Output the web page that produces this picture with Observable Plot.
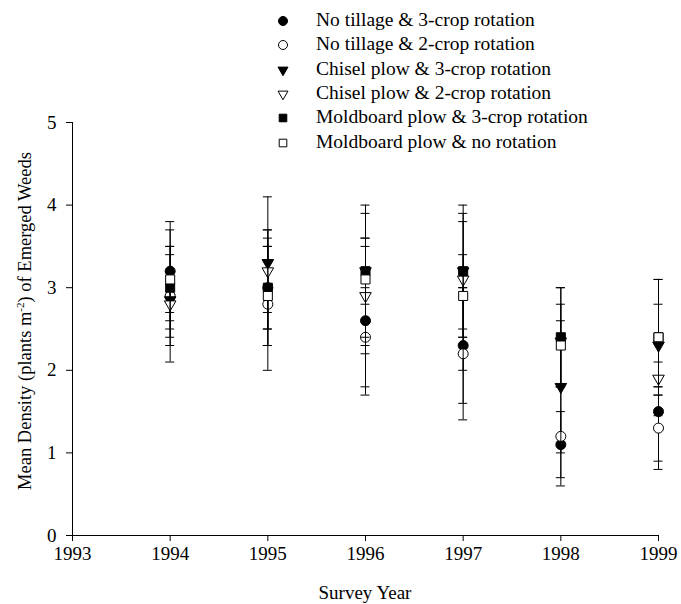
<!DOCTYPE html>
<html><head><meta charset="utf-8">
<script src="https://cdn.jsdelivr.net/npm/d3@7"></script>
<script src="https://cdn.jsdelivr.net/npm/@observablehq/plot@0.6"></script>
<style>
body{margin:0;background:#fff;}
#wrap{position:relative;width:681px;height:604px;font-family:"Liberation Serif","Times New Roman",serif;}
#legend{position:absolute;left:0;top:0;width:0;height:0;}
.lrow{position:absolute;left:316px;font-size:19.5px;line-height:20px;white-space:nowrap;color:#000;font-family:"Liberation Serif","Times New Roman",serif;}
.lsym{position:absolute;}
#chart svg text{font-family:"Liberation Serif","Times New Roman",serif;}
</style></head><body><div id="wrap"><div id="chart"></div><div id="legend"></div></div>
<script>
// ---- data ----
const years = [1994, 1995, 1996, 1997, 1998, 1999];
const xTicks = [1993, 1994, 1995, 1996, 1997, 1998, 1999];
const yTicks = [0, 1, 2, 3, 4, 5];
const seriesNames = [
  "No tillage & 3-crop rotation",
  "No tillage & 2-crop rotation",
  "Chisel plow & 3-crop rotation",
  "Chisel plow & 2-crop rotation",
  "Moldboard plow & 3-crop rotation",
  "Moldboard plow & no rotation"
];
const nt3Mean = [3.2, 3.0, 2.6, 2.3, 1.1, 1.5];
const nt3Lo   = [2.6, 2.5, 1.7, 1.6, 0.7, 0.9];
const nt3Hi   = [3.8, 3.5, 3.5, 3.0, 1.5, 2.1];
const nt2Mean = [2.9, 2.8, 2.4, 2.2, 1.2, 1.3];
const nt2Lo   = [2.1, 2.0, 1.8, 1.4, 0.6, 0.8];
const nt2Hi   = [3.7, 3.6, 3.0, 3.0, 1.8, 1.8];
const cp3Mean = [2.85, 3.3, 3.2, 3.2, 1.8, 2.3];
const cp3Lo   = [2.3, 2.5, 2.8, 2.5, 1.0, 1.8];
const cp3Hi   = [3.4, 4.1, 3.6, 3.9, 2.6, 2.8];
const cp2Mean = [2.8, 3.2, 2.9, 3.1, 2.35, 1.9];
const cp2Lo   = [2.4, 2.7, 2.2, 2.0, 1.8, 1.45];
const cp2Hi   = [3.2, 3.7, 3.6, 3.8, 3.0, 2.35];
const mb3Mean = [3.0, 3.0, 3.2, 3.2, 2.4, 2.4];
const mb3Lo   = [2.5, 2.3, 2.4, 2.4, 1.8, 1.7];
const mb3Hi   = [3.5, 3.7, 4.0, 4.0, 3.0, 3.1];
const mbnMean = [3.1, 2.9, 3.1, 2.9, 2.3, 2.4];
const mbnLo   = [2.7, 2.3, 2.3, 2.4, 1.8, 1.7];
const mbnHi   = [3.5, 3.5, 3.9, 3.4, 2.8, 3.1];

const serif = "Liberation Serif, Times New Roman, serif";

// ---- symbols ----
const downTriangle = {
  draw(context, size) {
    const s3 = Math.sqrt(3);
    const y = -Math.sqrt(size / (s3 * 3));
    context.moveTo(0, -2 * y);
    context.lineTo(-s3 * y, y);
    context.lineTo(s3 * y, y);
    context.closePath();
  }
};
const styles = [
  {symbol: "circle", r: 5, fill: "black"},
  {symbol: "circle", r: 5, fill: "white"},
  {symbol: downTriangle, r: 4.3, fill: "black"},
  {symbol: downTriangle, r: 4.3, fill: "white"},
  {symbol: "square", r: 5.1, fill: "black"},
  {symbol: "square", r: 5.1, fill: "white"}
];
const means = [nt3Mean, nt2Mean, cp3Mean, cp2Mean, mb3Mean, mbnMean];
const los = [nt3Lo, nt2Lo, cp3Lo, cp2Lo, mb3Lo, mbnLo];
const his = [nt3Hi, nt2Hi, cp3Hi, cp2Hi, mb3Hi, mbnHi];

const marks = [
  Plot.ruleX([1993], {stroke: "black"}),
  Plot.ruleY([0], {stroke: "black"}),
  Plot.axisY({ticks: yTicks, tickSize: 6, tickPadding: 10, fontSize: 19, fontFamily: serif, label: null, tickFormat: d => String(d)}),
  Plot.axisX({ticks: xTicks, tickSize: 6, tickPadding: 5, fontSize: 19, fontFamily: serif, label: null, tickFormat: d => String(d)})
];
seriesNames.forEach((name, k) => {
  const rows = years.map((yr, i) => ({year: yr, mean: means[k][i], lo: los[k][i], hi: his[k][i]}));
  const st = styles[k];
  marks.push(Plot.ruleX(rows, {x: "year", y1: "lo", y2: "hi", stroke: "black", strokeWidth: 1}));
  marks.push(Plot.ruleY(rows, {y: "lo", x1: "year", x2: "year", insetLeft: -4.5, insetRight: -4.5, stroke: "black", strokeWidth: 1}));
  marks.push(Plot.ruleY(rows, {y: "hi", x1: "year", x2: "year", insetLeft: -4.5, insetRight: -4.5, stroke: "black", strokeWidth: 1}));
  marks.push(Plot.dot(rows, {x: "year", y: "mean", symbol: () => st.symbol, r: st.r, fill: st.fill, stroke: "black", strokeWidth: 1}));
});

const svg = Plot.plot({
  width: 681,
  height: 604,
  marginLeft: 72,
  marginRight: 23,
  marginTop: 122,
  marginBottom: 69,
  x: {domain: [1993, 1999], type: "linear"},
  y: {domain: [0, 5]},
  symbol: {type: "identity"},
  style: {fontFamily: serif, color: "black", background: "white", overflow: "visible"},
  marks
});
document.getElementById("chart").appendChild(svg);

const sel = d3.select(svg);
const yl = sel.append("text")
  .attr("transform", "translate(31,321) rotate(-90)")
  .attr("text-anchor", "middle")
  .attr("font-size", 18.5)
  .attr("fill", "black")
  .attr("font-family", serif);
yl.append("tspan").text("Mean Density (plants m");
yl.append("tspan").attr("dy", -7).attr("font-size", 11).text("-2");
yl.append("tspan").attr("dy", 7).text(") of Emerged Weeds");
sel.append("text")
  .attr("x", 365).attr("y", 599)
  .attr("text-anchor", "middle")
  .attr("font-size", 19)
  .attr("fill", "black")
  .attr("font-family", serif)
  .text("Survey Year");

// ---- legend ----
const legend = d3.select("#legend");
seriesNames.forEach((name, k) => {
  const cy = 21 + k * 24.3;
  const st = styles[k];
  const s = legend.append("svg").attr("class", "lsym")
    .attr("width", 16).attr("height", 16)
    .style("left", (283 - 8) + "px").style("top", (cy - 8) + "px");
  const sym = typeof st.symbol === "string" ? (st.symbol === "circle" ? d3.symbolCircle : d3.symbolSquare) : st.symbol;
  const sz = Math.PI * Math.pow(k < 2 ? 4.5 : (k < 4 ? 3.7 : 4.3), 2);
  s.append("path").attr("transform", "translate(8,8)")
    .attr("d", d3.symbol(sym, sz)())
    .attr("fill", st.fill).attr("stroke", "black").attr("stroke-width", 1);
  legend.append("div").attr("class", "lrow")
    .style("top", (cy - 11) + "px")
    .text(name);
});
</script></body></html>
